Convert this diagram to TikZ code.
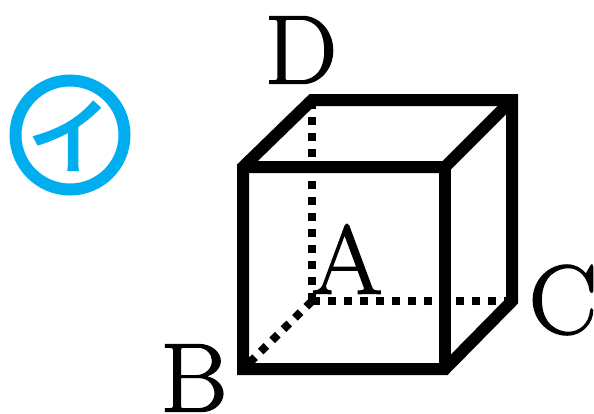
\documentclass[tikz,border=0pt]{standalone}
\usepackage{fontspec}
\setmainfont[FakeBold=1.5,FakeStretch=1.05]{Latin Modern Roman}
\newfontfamily\cjk[FakeBold=4]{Noto Sans CJK JP}
\usetikzlibrary{positioning}
\definecolor{markblue}{RGB}{0,174,239}
\tikzset{
  edgeline/.style={line width=12pt, line join=miter},
  hiddenline/.style={line width=8pt, dash pattern=on 8pt off 8pt},
  vertexlabel/.style={font=\fontsize{98}{98}\selectfont, inner sep=0pt},
}
\begin{document}
\begin{tikzpicture}[x=1pt,y=-1pt]
  \useasboundingbox (0,0) rectangle (594,413);
  % hidden edges
  \coordinate (o) at (312,301);
  \coordinate (b) at (243,369);
  \coordinate (c) at (512,301);
  \coordinate (d) at (312,100);
  \draw[hiddenline] (o) -- (b);
  \draw[hiddenline] (o) -- (c);
  \draw[hiddenline] (o) -- (d);
  % box
  \draw[edgeline] (243,167) -- (312,100) -- (512,100) -- (512,301) -- (445,369) -- (243,369) -- cycle;
  \draw[edgeline] (243,167) -- (445,167) -- (512,100);
  \draw[edgeline] (445,167) -- (445,369);
  % labels
  \node[vertexlabel] (labelA) at (347,259) {A};
  \node[vertexlabel] (labelB) at (194,378) {B};
  \node[vertexlabel] (labelC) at (563,300) {C};
  \node[vertexlabel] (labelD) at (301,50) {D};
  % mark
  \node[circle, draw=markblue, line width=12pt, minimum size=109pt, inner sep=0pt] (mark) at (70,135) {};
  \node[text=markblue, inner sep=0pt, font=\cjk\fontsize{82}{82}\selectfont] (markletter) at (69,136) {イ};
\end{tikzpicture}
\end{document}
